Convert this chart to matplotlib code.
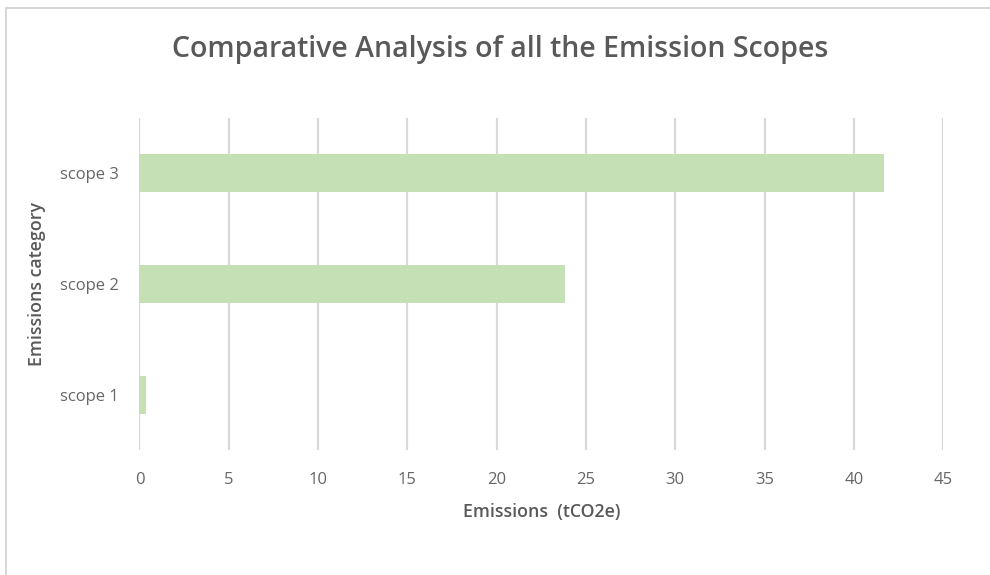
import matplotlib.pyplot as plt
from matplotlib.patches import Rectangle

plt.rcParams['font.family'] = ['Open Sans', 'DejaVu Sans']

categories = ["scope 1", "scope 2", "scope 3"]
emissions = [0.36, 23.8, 41.7]
xticks = [0, 5, 10, 15, 20, 25, 30, 35, 40, 45]

bar_color = "#c5e0b4"
grid_color = "#d9d9d9"
text_color = "#595959"

fig = plt.figure(figsize=(9.9, 5.75), dpi=100)
# chart frame, drawn underneath the axes
fig.patches.append(Rectangle((0.006, -0.01), 1.2, 0.996, transform=fig.transFigure,
                             facecolor="white", edgecolor="#d0d0d0", linewidth=1.2,
                             zorder=-10))

ax = fig.add_axes([0.1409, 0.2174, 0.8118, 0.5774])
ax.barh(range(len(categories)), emissions, height=0.345, color=bar_color, zorder=3)

ax.set_xlim(0, 45)
ax.set_ylim(-0.5, len(categories) - 0.5)
ax.set_xticks(xticks)
ax.set_yticks(range(len(categories)))
ax.set_yticklabels(categories)
ax.grid(axis="x", color=grid_color, linewidth=1.6, zorder=0)
ax.set_axisbelow(True)
for s in ax.spines.values():
    s.set_visible(False)
ax.tick_params(length=0, labelsize=12, labelcolor="#666666")
ax.tick_params(axis="x", pad=16)
ax.tick_params(axis="y", pad=15)
ax.set_facecolor("none")

ax.set_xlabel("Emissions  (tCO2e)", fontsize=12.8, fontweight="semibold",
              color=text_color, labelpad=11)
ax.set_ylabel("Emissions category", fontsize=12.8, fontweight="semibold",
              color=text_color, labelpad=10)

fig.text(0.5055, 0.914, "Comparative Analysis of all the Emission Scopes",
         ha="center", va="center", fontsize=20.5, fontweight="semibold", color=text_color)

fig.savefig("out.png", dpi=100, facecolor="white")
